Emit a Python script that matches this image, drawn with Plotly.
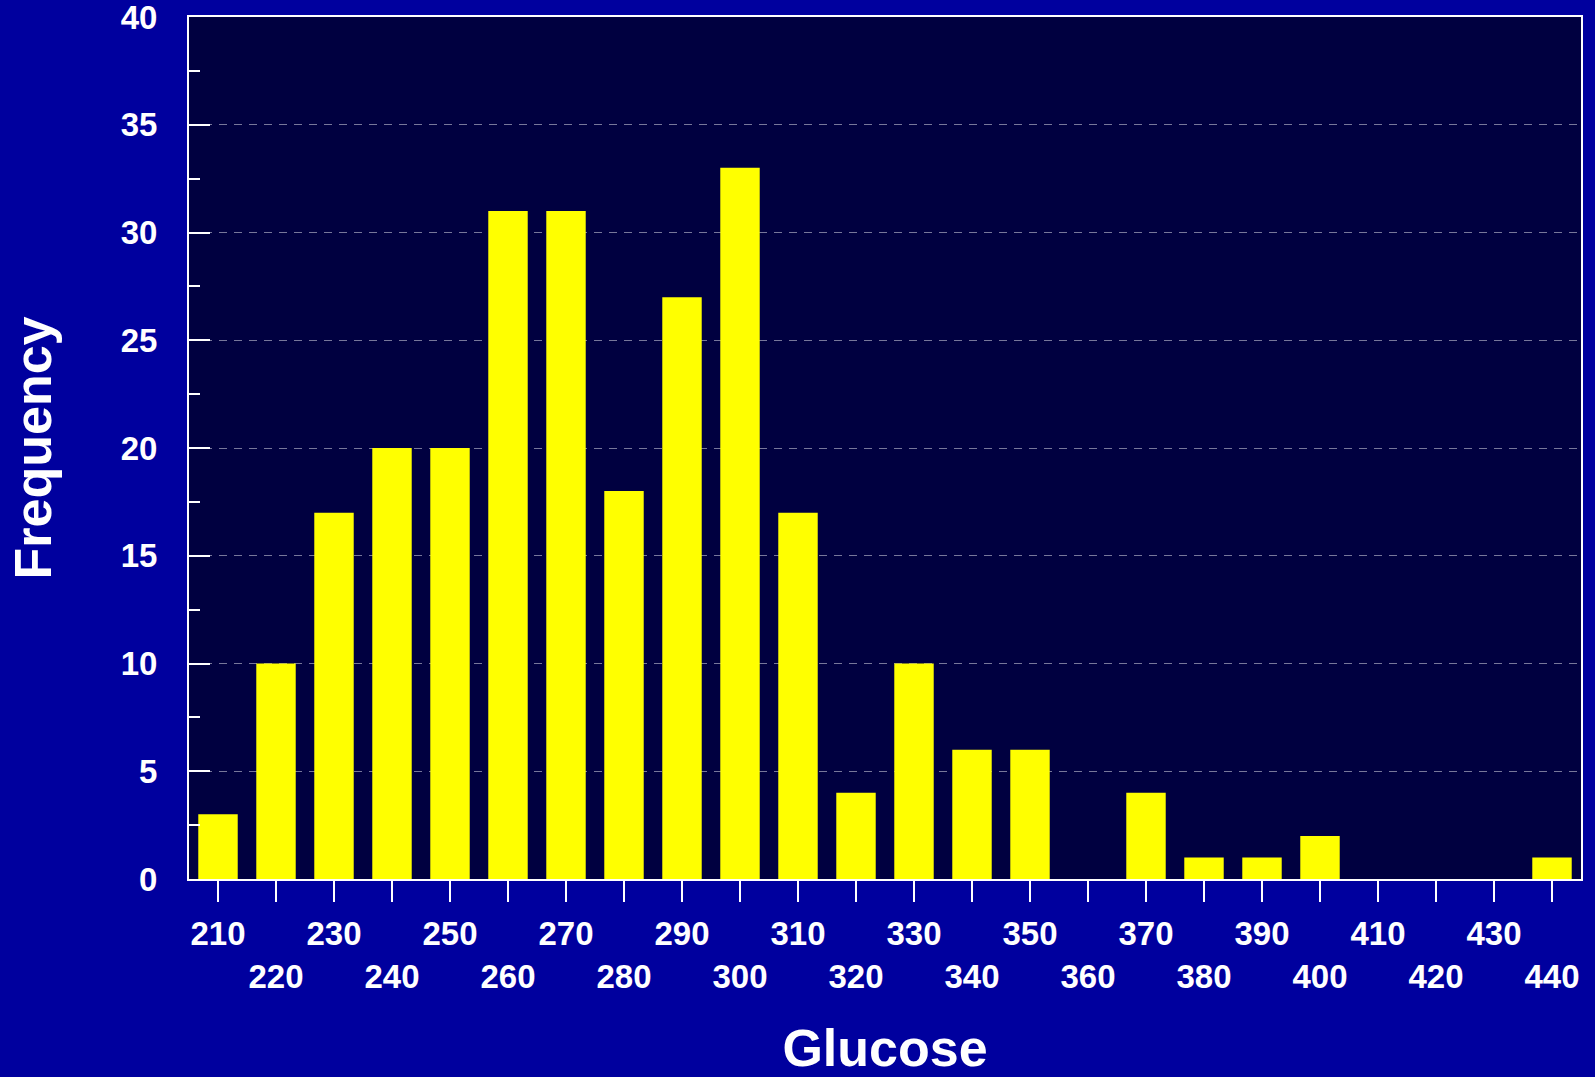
import plotly.graph_objects as go

# histogram of glucose values
glucose = [210, 220, 230, 240, 250, 260, 270, 280, 290, 300, 310, 320,
           330, 340, 350, 360, 370, 380, 390, 400, 410, 420, 430, 440]
frequency = [3, 10, 17, 20, 20, 31, 31, 18, 27, 33, 17, 4,
             10, 6, 6, 0, 4, 1, 1, 2, 0, 0, 0, 1]
y_ticks = [0, 5, 10, 15, 20, 25, 30, 35, 40]

# every other x label drops to a second row
x_ticktext = [str(g) if i % 2 == 0 else "<br>" + str(g) for i, g in enumerate(glucose)]

font_family = "Liberation Sans, Arial, sans-serif"

fig = go.Figure()
fig.add_trace(go.Bar(
    x=glucose, y=frequency, width=6.8,
    marker=dict(color="#FFFF00", line=dict(width=0)),
))

fig.update_layout(
    width=1595, height=1077,
    paper_bgcolor="#00009E",
    plot_bgcolor="#000040",
    margin=dict(l=189, r=14, t=17, b=198),
    showlegend=False,
    font=dict(family=font_family, color="white", size=33, weight="bold"),
)
fig.update_xaxes(
    range=[205, 445], automargin=False,
    tickvals=glucose, ticktext=x_ticktext,
    ticks="outside", ticklen=21, tickwidth=2, tickcolor="white",
    showline=True, linecolor="white", linewidth=2, mirror=True,
    showgrid=False, zeroline=False,
    tickfont=dict(size=33, family=font_family, color="white", weight="bold"),
    ticklabelstandoff=3,
    title=dict(text="Glucose", font=dict(size=52, family=font_family, color="white", weight="bold"), standoff=54),
)
fig.update_yaxes(
    range=[0, 40], automargin=False,
    tickvals=y_ticks,
    ticks="inside", ticklen=21, tickwidth=2, tickcolor="white",
    minor=dict(dtick=2.5, ticks="inside", ticklen=11, tickwidth=2, tickcolor="white", showgrid=False),
    showline=True, linecolor="white", linewidth=2, mirror=True,
    showgrid=True, gridcolor="#77779A", gridwidth=1, griddash="8px,7px",
    zeroline=False,
    tickfont=dict(size=33, family=font_family, color="white", weight="bold"),
    ticklabelstandoff=23, ticklabeloverflow="allow",
    title=dict(text="Frequency", font=dict(size=52, family=font_family, color="white", weight="bold"), standoff=52),
)

fig.write_html("out.html", config={"displayModeBar": False},
               post_script="document.body.style.margin='0';")
